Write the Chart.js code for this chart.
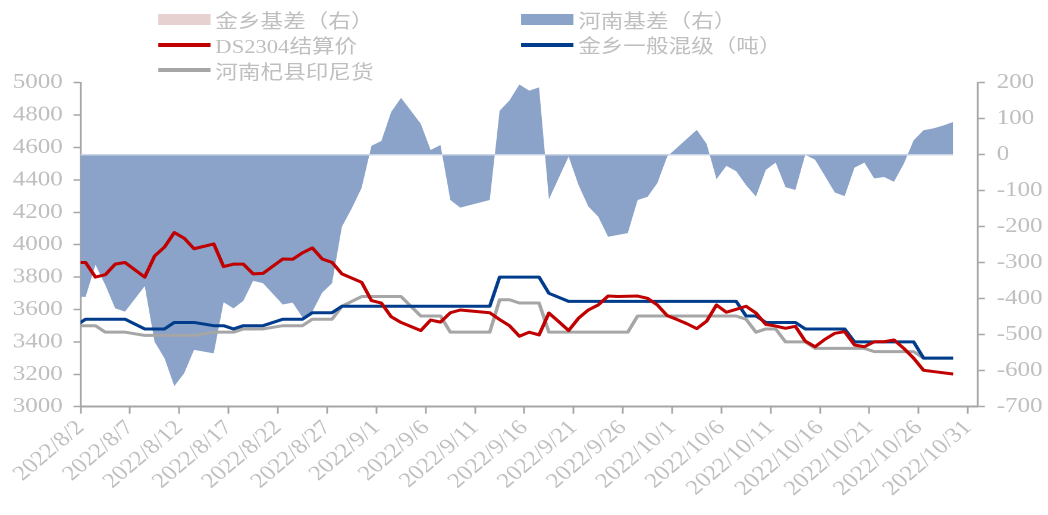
<!DOCTYPE html>
<html>
<head>
<meta charset="utf-8">
<script src="https://cdn.jsdelivr.net/npm/chart.js@4.4.0/dist/chart.umd.min.js"></script>
<style>
    html, body { margin: 0; padding: 0; background: #fff; overflow: hidden; }
    #wrap { position: relative; width: 881px; height: 515px; transform: scaleX(1.1896); transform-origin: 0 0; }
    .legend-item { position: absolute; height: 26px; display: flex; align-items: center; font: 19px 'Liberation Serif', 'Noto Sans CJK SC', serif; color: #BFBFBF; white-space: nowrap; }
    .swatch { width: 44px; margin-right: 4px; }
</style>
</head>
<body>
<div id="wrap">
    <canvas id="chart"></canvas>
    <div class="legend-item" style="left:133px;top:6.5px"><span class="swatch" style="height:11px;background:#E6D0D0"></span>金乡基差（右）</div>
    <div class="legend-item" style="left:438px;top:6.5px"><span class="swatch" style="height:11px;background:#8BA3C8"></span>河南基差（右）</div>
    <div class="legend-item" style="left:133px;top:31.5px"><span class="swatch" style="height:4px;background:#C00000"></span>DS2304结算价</div>
    <div class="legend-item" style="left:438px;top:31.5px"><span class="swatch" style="height:4px;background:#003C8C"></span>金乡一般混级（吨）</div>
    <div class="legend-item" style="left:133px;top:57.3px"><span class="swatch" style="height:4px;background:#A6A6A6"></span>河南杞县印尼货</div>
</div>
<script>
// daily dates, 8/1 only enters at the left edge of the axis
const dates = [
    '2022/8/1', '2022/8/2', '2022/8/3', '2022/8/4', '2022/8/5', '2022/8/6', '2022/8/7', '2022/8/8', '2022/8/9', '2022/8/10',
    '2022/8/11', '2022/8/12', '2022/8/13', '2022/8/14', '2022/8/15', '2022/8/16', '2022/8/17', '2022/8/18', '2022/8/19', '2022/8/20',
    '2022/8/21', '2022/8/22', '2022/8/23', '2022/8/24', '2022/8/25', '2022/8/26', '2022/8/27', '2022/8/28', '2022/8/29', '2022/8/30',
    '2022/8/31', '2022/9/1', '2022/9/2', '2022/9/3', '2022/9/4', '2022/9/5', '2022/9/6', '2022/9/7', '2022/9/8', '2022/9/9',
    '2022/9/10', '2022/9/11', '2022/9/12', '2022/9/13', '2022/9/14', '2022/9/15', '2022/9/16', '2022/9/17', '2022/9/18', '2022/9/19',
    '2022/9/20', '2022/9/21', '2022/9/22', '2022/9/23', '2022/9/24', '2022/9/25', '2022/9/26', '2022/9/27', '2022/9/28', '2022/9/29',
    '2022/9/30', '2022/10/1', '2022/10/2', '2022/10/3', '2022/10/4', '2022/10/5', '2022/10/6', '2022/10/7', '2022/10/8', '2022/10/9',
    '2022/10/10', '2022/10/11', '2022/10/12', '2022/10/13', '2022/10/14', '2022/10/15', '2022/10/16', '2022/10/17', '2022/10/18', '2022/10/19',
    '2022/10/20', '2022/10/21', '2022/10/22', '2022/10/23', '2022/10/24', '2022/10/25', '2022/10/26', '2022/10/27', '2022/10/28', '2022/10/29'
]

// 金乡基差（右）: nothing drawn in the picture
const jinxiangBasis = []

// 河南基差（右）
const henanBasis = [
    -394, -395, -306, -362, -427, -436, null, -365, -520, -565,
    -643, -607, -542, null, -552, -410, -427, -406, -350, -357,
    null, -416, -411, -452, -436, -383, -357, -200, -149, -92,
    25, 38, 119, 158, 122, 86, 13, 27, -126, -147,
    null, null, -126, 122, 151, 195, 178, 187, -124, null,
    -5, -84, -144, -172, -228, null, -218, -126, -117, -79,
    -5, null, null, 69, 30, -68, -31, -46, -85, -116,
    -42, -22, -90, -98, 0, -14, -59, -105, -115, -36,
    -22, -66, -62, -75, -25, 40, 68, 73, 81, 91
]

// DS2304结算价
const ds2304 = [
    3890, 3890, 3800, 3815, 3880, 3890, null, 3800, 3930, 3985,
    4075, 4040, 3975, null, 4005, 3865, 3880, 3880, 3820, 3823,
    null, 3912, 3910, 3950, 3980, 3912, 3891, 3820, null, 3768,
    3655, 3640, 3555, 3520, 3495, 3470, 3535, 3522, 3580, 3597,
    null, null, 3580, 3538, 3500, 3435, 3460, 3443, 3578, 3525,
    3470, 3546, 3597, 3628, 3683, 3680, null, 3683, 3669, 3628,
    3562, 3538, 3512, 3482, 3528, 3628, 3583, 3601, 3620, 3578,
    3508, 3498, 3484, 3496, 3405, 3370, 3416, 3453, 3463, 3381,
    3370, 3401, 3401, 3412, 3360, 3299, 3225, 3217, null, 3202
]

// 金乡一般混级（吨）
const jinxiangMixed = [
    3500, 3540, 3540, 3540, 3540, 3540, null, 3480, 3480, 3480,
    3520, 3520, 3520, null, 3500, 3500, 3480, 3500, 3500, 3500,
    null, 3540, 3540, 3540, 3580, 3580, 3580, 3620, 3620, 3620,
    3620, 3620, 3620, 3620, 3620, 3620, 3620, 3620, 3620, 3620,
    3620, 3620, 3620, 3800, 3800, 3800, 3800, 3800, 3700, null,
    3650, 3650, 3650, 3650, 3650, 3650, 3650, 3650, 3650, 3650,
    3650, 3650, 3650, 3650, 3650, 3650, 3650, 3650, 3560, 3560,
    3520, 3520, 3520, 3520, 3480, 3480, 3480, 3480, 3480, 3400,
    3400, 3400, 3400, 3400, 3400, 3400, 3300, 3300, 3300, 3300
]

// 河南杞县印尼货
const henanIndo = [
    3500, 3500, 3500, 3460, 3460, 3460, null, 3440, 3440, 3440,
    3440, 3440, 3440, null, 3460, 3460, 3460, 3480, 3480, 3480,
    null, 3500, 3500, 3500, 3540, 3540, 3540, 3620, null, 3680,
    3680, 3680, 3680, 3680, null, 3560, 3560, 3560, 3460, 3460,
    3460, 3460, 3460, 3660, 3660, 3640, 3640, 3640, 3460, 3460,
    3460, 3460, 3460, 3460, 3460, 3460, 3460, 3560, 3560, 3560,
    3560, 3560, 3560, 3560, 3560, 3560, 3560, 3560, 3540, 3460,
    3480, 3480, 3400, 3400, 3400, 3360, 3360, 3360, 3360, 3360,
    3360, 3340, 3340, 3340, 3340, 3340, 3300, 3300, 3300, 3300
]

const xTickLabels = [
    '2022/8/2', '2022/8/7', '2022/8/12', '2022/8/17', '2022/8/22', '2022/8/27', '2022/9/1',
    '2022/9/6', '2022/9/11', '2022/9/16', '2022/9/21', '2022/9/26', '2022/10/1', '2022/10/6',
    '2022/10/11', '2022/10/16', '2022/10/21', '2022/10/26', '2022/10/31'
]

const TICK_FONT = { family: "'Liberation Serif', 'Times New Roman', serif", size: 21 }
const TICK_COLOR = '#BFBFBF'
const AXIS_COLOR = '#A6A6A6'

function dayIndex(label) {
    const [y, m, d] = label.split('/').map(Number)
    return (Date.UTC(y, m - 1, d) - Date.UTC(2022, 7, 2)) / 86400000
}

// each day sits in the middle of its slot, as on a date axis
function toPoints(values) {
    return values.map((v, i) => ({ x: dayIndex(dates[i]) + 0.5, y: v }))
}

const tickLabelByValue = {}
xTickLabels.forEach(l => { tickLabelByValue[dayIndex(l)] = l })

// light seam along the zero line of the basis area
const baselinePlugin = {
    id: 'baseline',
    afterDatasetDraw(chart, args) {
        if (args.index !== 4) return
        const pts = args.meta.data.filter(p => !p.skip)
        if (!pts.length) return
        const area = chart.chartArea
        const y = chart.scales.y2.getPixelForValue(0)
        const x0 = Math.max(area.left, pts[0].x)
        const x1 = Math.min(area.right, pts[pts.length - 1].x)
        const ctx = chart.ctx
        ctx.save()
        ctx.strokeStyle = '#CBD5E5'
        ctx.lineWidth = 1.5
        ctx.beginPath()
        ctx.moveTo(x0, y)
        ctx.lineTo(x1, y)
        ctx.stroke()
        ctx.restore()
    }
}

function lineSet(label, values, color) {
    return {
        label,
        data: toPoints(values),
        yAxisID: 'y',
        borderColor: color,
        backgroundColor: color,
        borderWidth: 3,
        pointRadius: 0,
        tension: 0,
        spanGaps: true,
        borderJoinStyle: 'round',
        fill: false
    }
}

function createChart() {
    const canvas = document.querySelector('#chart')
    new Chart(canvas, {
        type: 'line',
        data: {
            datasets: [
                lineSet('DS2304结算价', ds2304, '#C00000'),
                lineSet('金乡一般混级（吨）', jinxiangMixed, '#003C8C'),
                lineSet('河南杞县印尼货', henanIndo, '#A6A6A6'),
                {
                    label: '金乡基差（右）',
                    data: toPoints(jinxiangBasis),
                    yAxisID: 'y2',
                    backgroundColor: '#E6D0D0',
                    borderWidth: 0,
                    pointRadius: 0,
                    fill: 'origin'
                },
                {
                    label: '河南基差（右）',
                    data: toPoints(henanBasis),
                    yAxisID: 'y2',
                    borderColor: 'rgba(0,0,0,0)',
                    backgroundColor: '#8BA3C8',
                    borderWidth: 0,
                    pointRadius: 0,
                    tension: 0,
                    spanGaps: true,
                    fill: 'origin'
                }
            ]
        },
        options: {
            responsive: true,
            maintainAspectRatio: false,
            animation: false,
            devicePixelRatio: 2,
            layout: { padding: { top: 82.7, left: 0, right: 0, bottom: 0 } },
            plugins: {
                legend: { display: false },
                tooltip: { enabled: false }
            },
            scales: {
                x: {
                    type: 'linear',
                    min: 0,
                    max: 91,
                    afterBuildTicks: scale => {
                        scale.ticks = xTickLabels.map(l => ({ value: dayIndex(l) }))
                    },
                    afterFit: scale => {
                        scale.height = 515 - 406.7
                        scale.paddingLeft = 0
                        scale.paddingRight = 0
                    },
                    ticks: {
                        autoSkip: false,
                        minRotation: 45,
                        maxRotation: 45,
                        padding: 2,
                        color: TICK_COLOR,
                        font: TICK_FONT,
                        callback: value => tickLabelByValue[value] || ''
                    },
                    grid: { drawOnChartArea: false, drawTicks: true, tickLength: 7, tickColor: AXIS_COLOR, tickWidth: 1.5 },
                    border: { display: true, color: AXIS_COLOR, width: 2 }
                },
                y: {
                    position: 'left',
                    min: 3000,
                    max: 5000,
                    afterFit: scale => { scale.width = 67.8 },
                    ticks: { stepSize: 200, padding: 9, color: TICK_COLOR, font: TICK_FONT, callback: v => String(v) },
                    grid: { drawOnChartArea: false, drawTicks: true, tickLength: 6, tickColor: AXIS_COLOR, tickWidth: 1.5 },
                    border: { display: true, color: AXIS_COLOR, width: 1.7 }
                },
                y2: {
                    position: 'right',
                    min: -700,
                    max: 200,
                    afterFit: scale => { scale.width = 881 - 821.9 },
                    ticks: { stepSize: 100, padding: 10, color: TICK_COLOR, font: TICK_FONT, callback: v => String(v) },
                    grid: { drawOnChartArea: false, drawTicks: true, tickLength: 6, tickColor: AXIS_COLOR, tickWidth: 1.5 },
                    border: { display: true, color: AXIS_COLOR, width: 1.7 }
                }
            }
        },
        plugins: [baselinePlugin]
    })
}

createChart()
</script>
</body>
</html>
